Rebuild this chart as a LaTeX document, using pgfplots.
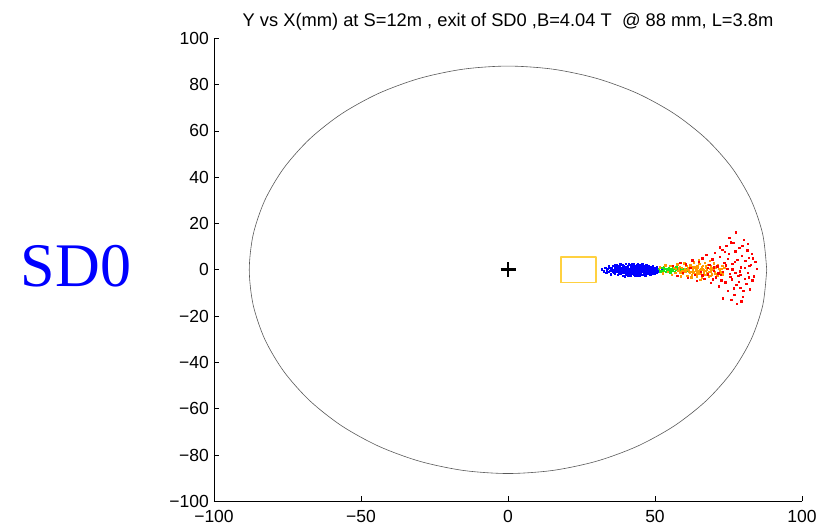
\documentclass[border=0pt]{standalone}
\usepackage{pgfplots}
\pgfplotsset{compat=1.18}
\usepackage{fontspec}
\setmainfont{Liberation Sans}
\newfontfamily\seriffont{Liberation Serif}
\definecolor{myorange}{rgb}{1,0.6,0}
\definecolor{mygreen}{rgb}{0.1,0.9,0.1}
\definecolor{myyellow}{rgb}{1,0.82,0.25}
\definecolor{circgray}{rgb}{0.35,0.35,0.35}
\begin{document}
\begin{tikzpicture}
\begin{axis}[
  scale only axis, width=588bp, height=463bp,
  xmin=-100, xmax=100, ymin=-100, ymax=100,
  axis x line*=bottom, axis y line*=left,
  axis line style={line width=0.8bp},
  tick align=inside, major tick length=5bp,
  tick style={line width=0.6bp, black},
  xtick={-100,-50,0,50,100}, xticklabels={−100,−50,0,50,100},
  ytick={-100,-80,-60,-40,-20,0,20,40,60,80,100},
  yticklabels={−100,−80,−60,−40,−20,0,20,40,60,80,100},
  tick label style={font=\fontsize{17.5bp}{19bp}\selectfont},
  xticklabel style={yshift=-8bp, inner sep=1bp},
  yticklabel style={inner sep=1bp, xshift=-4bp},
  title={Y vs X(mm) at S=12m , exit of SD0 ,B=4.04 T\ \ @ 88 mm, L=3.8m},
  title style={font=\fontsize{18.3bp}{20bp}\selectfont, yshift=-1bp},
  clip=false,
]
% circle r = 88 mm
\addplot[circgray, line width=0.6bp, smooth] coordinates {
(88,0) (86.66,15.28) (82.69,30.10) (76.21,44.0) (67.41,56.57) (56.57,67.41) (44.0,76.21) (30.10,82.69) (15.28,86.66)
(0,88) (-15.28,86.66) (-30.10,82.69) (-44.0,76.21) (-56.57,67.41) (-67.41,56.57) (-76.21,44.0) (-82.69,30.10) (-86.66,15.28)
(-88,0) (-86.66,-15.28) (-82.69,-30.10) (-76.21,-44.0) (-67.41,-56.57) (-56.57,-67.41) (-44.0,-76.21) (-30.10,-82.69) (-15.28,-86.66)
(0,-88) (15.28,-86.66) (30.10,-82.69) (44.0,-76.21) (56.57,-67.41) (67.41,-56.57) (76.21,-44.0) (82.69,-30.10) (86.66,-15.28)
(88,0)};
% yellow box
\addplot[myyellow, line width=1.6bp, line join=round] coordinates {(18,-5.5) (30,-5.5) (30,5.5) (18,5.5) (18,-5.5)};
% centre cross
\addplot[only marks, mark=+, mark size=7.5bp, mark options={line width=2.6bp, black}] coordinates {(0,0)};
% blue
\addplot[only marks, mark=square*, mark size=0.7bp, blue, mark options={draw=blue, fill=blue, line width=0.3bp}] coordinates {
(31.8,0.2) (32.5,-0.6) (33.1,0.9) (33.4,-1.2) (33.9,0.4) (34.2,1.5) (34.6,-0.3) (34.9,-1.8) (35.2,0.8) (35.5,-0.9)
(35.8,1.9) (36.0,0.1) (36.3,-1.5) (36.5,1.1) (36.8,-0.5) (37.0,2.2) (37.2,-2.1) (37.4,0.6) (37.6,-1.0) (37.8,1.6)
(38.0,-0.2) (38.2,2.5) (38.3,-1.7) (38.5,0.9) (38.7,-0.7) (38.9,1.3) (39.0,-2.4) (39.2,0.3) (39.4,1.9) (39.5,-1.2)
(39.7,0.7) (39.9,-0.4) (40.0,2.7) (40.2,-1.9) (40.3,1.0) (40.5,-0.1) (40.7,1.7) (40.8,-2.6) (41.0,0.5) (41.2,-1.3)
(41.3,2.1) (41.5,-0.6) (41.7,1.2) (41.8,-2.0) (42.0,0.2) (42.2,1.8) (42.3,-0.9) (42.5,2.4) (42.7,-1.6) (42.8,0.8)
(43.0,-0.3) (43.2,1.5) (43.3,-2.3) (43.5,0.4) (43.7,-1.1) (43.8,2.0) (44.0,-0.7) (44.2,1.1) (44.3,-1.8) (44.5,0.1)
(44.7,2.3) (44.8,-0.5) (45.0,1.4) (45.2,-1.4) (45.3,0.6) (45.5,-2.2) (45.7,1.9) (45.8,-0.2) (46.0,0.9) (46.2,-1.0)
(46.3,1.6) (46.5,-1.7) (46.7,0.3) (46.8,2.2) (47.0,-0.8) (47.2,1.2) (47.3,-1.5) (47.5,0.5) (47.7,-0.4) (47.8,1.7)
(48.0,-1.2) (48.2,0.8) (48.3,-2.0) (48.5,1.3) (48.7,-0.1) (48.8,-1.4) (49.0,0.7) (49.2,1.5) (49.3,-0.9) (49.5,0.2)
(49.7,-1.6) (49.8,1.0) (50.0,-0.5) (50.2,0.6) (50.4,-1.1) (50.6,1.2) (50.8,-0.3) (51.0,0.4) (51.3,-0.8) (51.6,0.9)
(51.9,-0.4) (52.3,0.3)
(33.6,-0.1) (35.0,0.5) (36.1,-0.8) (36.9,0.2) (37.5,1.3) (38.1,-1.3) (38.6,0.1) (39.3,-0.6) (39.8,1.4) (40.4,-0.9)
(40.9,0.4) (41.4,-0.2) (41.9,1.0) (42.4,0.0) (42.9,-1.9) (43.4,1.2) (43.9,0.3) (44.4,-0.4) (44.9,0.7) (45.4,-0.9)
(45.9,1.0) (46.4,0.0) (46.9,-1.3) (47.4,0.9) (47.9,0.1) (48.4,-0.6) (48.9,0.4) (49.4,-0.2) (37.9,0.8) (41.1,2.4)
(43.6,-2.5) (45.6,2.5) (39.6,-2.7) (44.1,2.7)
(34.0,-0.9) (34.5,0.9) (35.3,-0.2) (35.9,-1.2) (36.4,0.6) (36.7,1.7) (37.1,-0.3) (37.3,1.0) (37.7,-1.6) (38.4,0.4)
(38.8,-1.0) (39.1,1.0) (39.6,0.2) (40.1,-0.5) (40.6,0.8) (41.1,-1.0) (41.6,0.3) (42.1,-1.4) (42.6,1.2) (43.1,0.6)
(43.6,-0.7) (44.1,-1.2) (44.6,1.6) (45.1,-0.3) (45.6,0.2) (46.1,-1.9) (46.6,1.3) (47.1,0.0) (47.6,-1.0) (48.1,1.2)
(48.6,0.6) (49.1,-1.1) (49.6,0.8) (50.1,0.1) (50.5,-0.6) (36.2,2.3) (38.8,2.2) (41.6,-2.3) (42.1,2.6) (44.6,-2.4)
(46.6,-2.3) (47.1,2.0) (40.6,-1.5) (43.1,-1.5) (45.1,1.8)};
% green
\addplot[only marks, mark=square*, mark size=0.7bp, mygreen, mark options={draw=mygreen, fill=mygreen, line width=0.3bp}] coordinates {
(51.2,0.5) (51.8,-0.6) (52.4,0.9) (52.9,-0.2) (53.3,0.6) (53.8,-0.9) (54.2,0.2) (54.6,1.0) (55.0,-0.5) (55.4,0.4)
(55.8,-0.1) (56.2,0.7) (56.6,-0.7) (57.0,0.1) (57.4,0.5) (57.8,-0.4) (58.2,0.3) (58.6,-0.8) (59.0,0.6) (59.4,-0.2)
(59.8,0.2) (60.2,-0.5) (60.6,0.4) (61.0,-0.1) (61.5,0.3) (53.0,1.2) (55.2,-1.2) (57.2,1.1) (56.0,0.0) (58.8,0.0)
(54.9,0.1) (52.2,-0.3)};
% orange
\addplot[only marks, mark=square*, mark size=0.7bp, myorange, mark options={draw=myorange, fill=myorange, line width=0.3bp}] coordinates {
(51.5,1.2) (52.6,-1.5) (53.5,2.0) (54.3,-0.8) (55.1,1.7) (55.7,-2.2) (56.4,1.0) (56.9,-1.3) (57.5,2.4) (57.9,-0.4)
(58.3,1.4) (58.7,-2.7) (59.1,0.8) (59.5,-1.6) (59.9,2.9) (60.3,-0.9) (60.6,1.8) (61.0,-2.4) (61.3,0.5) (61.7,-1.1)
(62.0,2.2) (62.3,-3.1) (62.6,1.1) (62.9,-0.3) (63.2,3.3) (63.5,-1.8) (63.8,0.7) (64.1,-2.8) (64.4,1.6) (64.7,-0.6)
(65.0,2.6) (65.3,-1.4) (65.6,0.3) (65.9,-3.5) (66.2,1.9) (66.5,-0.9) (66.8,3.0) (67.1,-2.0) (67.4,0.9) (67.7,-1.2)
(68.0,2.3) (68.3,-3.0) (68.6,0.4) (68.9,1.5) (69.2,-1.9) (69.5,0.2) (69.9,2.8) (70.3,-0.7) (70.7,1.2) (71.1,-2.5)
(71.6,0.6) (72.2,-1.0) (72.8,1.7) (60.0,0.3) (61.5,-0.5) (62.8,0.1) (64.0,0.6) (65.2,-0.2) (66.0,0.5) (67.0,-0.4)
(63.0,-1.0) (64.6,1.0) (66.6,-1.7) (61.9,1.4) (59.2,-0.6) (58.0,0.7) (67.9,0.9) (69.0,-0.5) (70.0,0.4) (62.4,4.2)
(65.4,-4.3) (68.5,3.9) (64.9,4.4)
(60.8,0.0) (62.1,-0.8) (63.3,1.2) (63.9,-0.4) (64.3,-1.5) (65.8,1.1) (66.4,0.0) (67.2,1.6) (67.6,0.2) (68.2,-0.9)
(68.8,-2.4) (69.4,1.0) (70.5,-1.6) (71.3,2.0) (71.9,-0.2) (72.5,0.5) (73.0,-1.8) (73.5,0.9) (61.1,1.0) (62.5,-2.0)
(57.0,0.6) (58.5,-1.0)};
% red
\addplot[only marks, mark=square*, mark size=0.7bp, red, mark options={draw=red, fill=red, line width=0.3bp}] coordinates {
(56.0,1.8) (57.5,-2.5) (58.5,3.0) (59.5,-1.2) (60.4,2.4) (61.2,-3.4) (62.0,0.9) (62.7,4.1) (63.4,-2.1) (64.2,-4.8)
(64.8,3.6) (65.5,-0.8) (66.1,5.0) (66.7,-3.9) (67.4,6.5) (67.9,-1.9) (68.4,2.1) (68.9,-5.6) (69.4,4.6) (69.9,-0.4)
(70.3,7.3) (70.7,-3.1) (71.2,1.5) (71.6,-7.0) (72.0,5.6) (72.4,-2.2) (72.8,8.8) (73.1,-12.3) (73.5,3.2) (73.9,-5.4)
(74.2,10.4) (74.5,0.6) (74.8,-8.9) (75.1,6.9) (75.4,-1.7) (75.7,12.0) (76.0,-4.1) (76.3,2.7) (76.6,11.7) (76.9,-10.7)
(77.2,8.1) (77.4,16.2) (77.6,-6.5) (77.8,-14.6) (78.0,4.4) (78.3,-2.6) (78.6,9.6) (78.9,-7.8) (79.2,1.1) (79.5,6.2)
(79.8,-11.5) (80.1,13.0) (80.4,-3.7) (80.7,3.9) (81.0,-6.0) (81.3,8.5) (81.6,-1.2) (81.9,5.3) (82.2,-8.3) (82.6,2.2)
(83.0,-4.4) (83.5,-2.7) (84.0,3.6) (84.6,0.5) (76.2,0.2) (73.0,-0.9) (70.0,1.2) (78.8,-0.5) (80.5,0.8) (74.0,2.0)
(75.5,-3.0) (71.5,-1.5) (79.0,-2.0) (77.0,3.5) (68.0,0.8) (66.0,-2.3) (72.5,-4.5) (74.7,4.8) (76.8,-8.0) (79.7,10.5)
(81.8,-3.2) (82.8,7.0) (75.9,-12.8) (78.4,-5.1) (73.6,7.9) (69.6,-4.0) (71.9,9.8) (80.0,-9.0) (77.3,-1.3) (82.0,1.9)
(83.2,5.0) (75.2,14.0) (79.3,-13.6) (81.5,11.2)};
\node[anchor=base, blue, font=\seriffont\fontsize{62bp}{66bp}\selectfont, inner sep=0pt]
  at (axis cs:-100,-7.4) [xshift=-138bp] {SD0};
\path (rel axis cs:0,0) ++(-214bp,-26.5bp) coordinate (bbA);
\path (rel axis cs:1,1) ++(26bp,38.3bp) coordinate (bbB);
\end{axis}
\path (bbA) rectangle (bbB);
\end{tikzpicture}
\end{document}
